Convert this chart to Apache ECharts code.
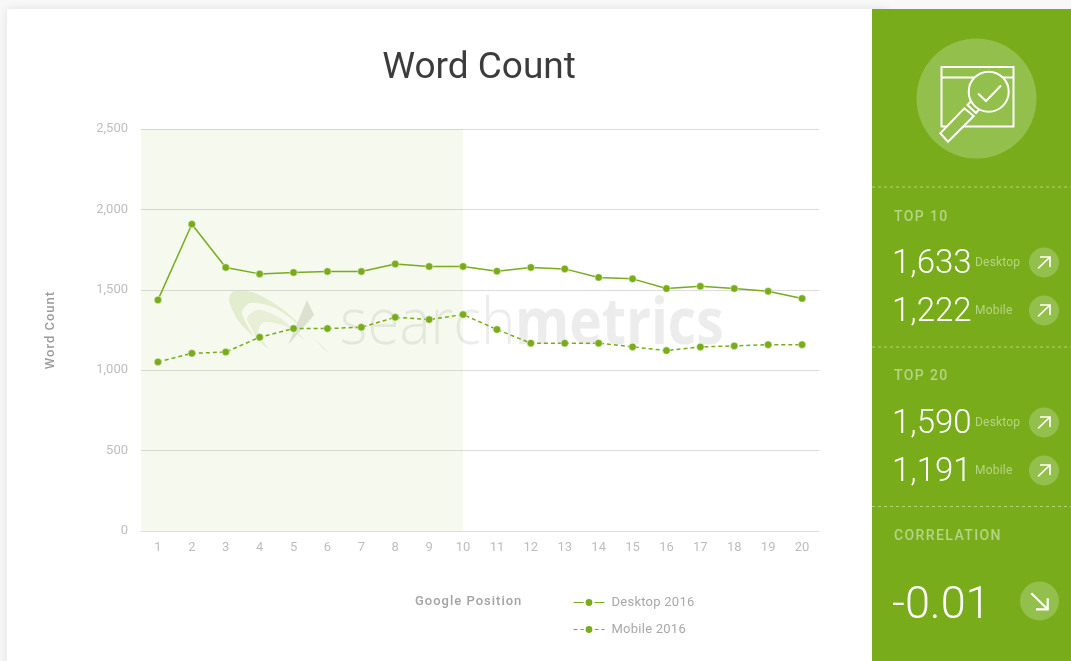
<!DOCTYPE html>
<html><head><meta charset="utf-8">
<style>html,body{margin:0;padding:0;background:#f8f8f8;overflow:hidden}#c{width:1071px;height:661px}</style>
<script src="https://cdn.jsdelivr.net/npm/echarts@6/dist/echarts.min.js"></script>
</head><body><div id="c"></div>
<script>
const positions = ['1','2','3','4','5','6','7','8','9','10','11','12','13','14','15','16','17','18','19','20'];
const desktop2016 = [1437,1908,1639,1599,1608,1614,1614,1661,1645,1645,1616,1639,1630,1577,1568,1508,1522,1508,1491,1446];
const mobile2016 = [1051,1105,1113,1205,1259,1259,1267,1329,1315,1346,1253,1168,1168,1168,1145,1122,1145,1151,1159,1159];
const top10Values = ['1,633','1,222'];
const top20Values = ['1,590','1,191'];
const correlationValue = '-0.01';
const G = '#78ac1a', C = '#93bf4c', SUB = '#b6d486';

// Tracking for labels: the reference sets these with CSS letter-spacing.
const tracking = {'TOP 10':'1.4px','TOP 20':'1.4px','CORRELATION':'1.4px','Desktop':'0.2px','Mobile':'0.2px',
  'Google Position':'1px','Word Count@axis':'1px','Desktop 2016':'0.25px','Mobile 2016':'0.25px'};
const nativeFill = CanvasRenderingContext2D.prototype.fillText;
CanvasRenderingContext2D.prototype.fillText = function(t, x, y, m){
  const isAxisName = t === 'Word Count' && this.font.indexOf('37') < 0;
  const s = isAxisName ? tracking['Word Count@axis'] : tracking[t];
  if (s) this.letterSpacing = s;
  m === undefined ? nativeFill.call(this, t, x, y) : nativeFill.call(this, t, x, y, m);
  if (s) this.letterSpacing = '0px';
};

const font = (s, w) => (w || 400) + ' ' + s + 'px Roboto';
const txt = (text, x, y, fill, f, extra) => ({type:'text', z:(extra&&extra.z)||5, scaleX:(extra&&extra.sx)||1, originX:x, originY:y,
  style:Object.assign({text, x, y, fill, font:f, textVerticalAlign:'middle'}, extra&&extra.align?{textAlign:extra.align}:{})});
const line = (x1,y1,x2,y2,w,dash,stroke) => ({type:'line', z:5, shape:{x1,y1,x2,y2}, style:{stroke:stroke||'#fff', lineWidth:w||2, lineDash:dash||null}});
const circ = (cx,cy,r,fill,stroke,w) => ({type:'circle', z:5, shape:{cx,cy,r}, style:{fill, stroke:stroke||null, lineWidth:w||0}});
const arrowUp = (cx,cy) => [circ(cx,cy,15,C),
  {type:'polyline', z:6, shape:{points:[[cx-4,cy-5.5],[cx+6,cy-5.5],[cx+6,cy+4.5]]}, style:{fill:null, stroke:'#fff', lineWidth:1.7}},
  line(cx-6,cy+6,cx+6,cy-5.5,1.7)];
const row = (val,label,y) => [txt(val,892,y+3,'#fff',font(33,300)), txt(label,975,y+1,SUB,font(12)), ...arrowUp(1044,y+0.5)];
const poly = (points,fill,smooth) => ({type:'polygon', z:-1, shape:{points, smooth:smooth||0}, style:{fill}});
const graphics = [
  {type:'rect', z:-2, shape:{x:7,y:9,width:880,height:670}, style:{fill:'#fff', shadowBlur:9, shadowColor:'rgba(0,0,0,0.10)'}},
  {type:'rect', z:4, shape:{x:872,y:9,width:199,height:652}, style:{fill:G}},
  // watermark
  poly([[229,300],[234,291],[255,293],[285,311],[310,335],[328,352],[300,332],[270,322],[252,326],[268,348],[240,323]],'#ebf3df',0.3),
  poly([[242,313],[250,303],[275,308],[305,330],[322,348],[290,326],[265,316],[250,319],[258,342]],'#ffffff',0.3),
  poly([[247,319],[258,310],[280,318],[305,340],[282,324],[264,322],[258,332],[266,347]],'#f0f5e6',0.3),
  poly([[307,300],[314,315],[288,345]],'#e4e6de'),
  txt('search',340,325,'#ececec','300 65px "Open Sans"',{z:-1,sx:0.9}),
  txt('metrics',515,325,'#ececec','700 65px "Open Sans"',{z:-1,sx:0.85}),
  txt('Word Count',479,69,'#3c3c3c',font(37),{align:'center'}),
  txt('Google Position',415,602,'#a3a3a3',font(13,500)),
  // icon
  circ(976.5,98.5,60,C),
  {type:'rect', z:5, shape:{x:941.5,y:67,width:72,height:59.5}, style:{fill:null, stroke:'#fff', lineWidth:2}},
  line(941.5,77.5,1013.5,77.5,2),
  {type:'polygon', z:5, shape:{points:[[964.3,108.3],[973.7,116],[948,141.7],[940.3,133.3]]}, style:{fill:C, stroke:'#fff', lineWidth:2}},
  {type:'polygon', z:5, shape:{points:[[967.5,105],[976,113],[982,106],[974,98]]}, style:{fill:C, stroke:'#fff', lineWidth:2}},
  circ(988.7,91.7,20,C,'#fff',2),
  {type:'polyline', z:6, shape:{points:[[978,93.5],[986,101],[1001,85.5]]}, style:{fill:null, stroke:'#fff', lineWidth:2}},
  // dividers
  line(872,187,1071,187,1,[3,3],'rgba(255,255,255,0.45)'),
  line(872,347,1071,347,1,[3,3],'rgba(255,255,255,0.45)'),
  line(872,506.5,1071,506.5,1,[3,3],'rgba(255,255,255,0.45)'),
  txt('TOP 10',894,217,SUB,font(14,500)),
  ...row(top10Values[0],'Desktop',262),
  ...row(top10Values[1],'Mobile',310),
  txt('TOP 20',894,376,SUB,font(14,500)),
  ...row(top20Values[0],'Desktop',422),
  ...row(top20Values[1],'Mobile',470),
  txt('CORRELATION',894,536,SUB,font(14,500)),
  txt(correlationValue,892,607,'#fff',font(45,300)),
  circ(1039.5,601,19.5,C),
  {type:'polyline', z:6, shape:{points:[[1047.7,598.3],[1047.7,609.3],[1036,609.3]]}, style:{fill:null, stroke:'#fff', lineWidth:2.2}},
  line(1031.3,593.3,1047.7,609.3,2.2)
];
const chart = echarts.init(document.getElementById('c'), null, {renderer:'canvas'});
const seriesCommon = {type:'line', symbol:'circle', symbolSize:7.5, showSymbol:true, animation:false, smooth:false, itemStyle:{color:'#78ac1a', borderColor:'#fff', borderWidth:0.5}};
chart.setOption({
  animation:false,
  backgroundColor:'#f8f8f8',
  textStyle:{fontFamily:'Roboto'},
  graphic:{elements:graphics},
  grid:{left:141, right:252, top:129, bottom:130, containLabel:false},
  legend:{orient:'vertical', left:568, top:591, itemWidth:31, itemHeight:11, itemGap:14, selectedMode:false,
    lineStyle:{width:1},
    textStyle:{color:'#a8a8a8', fontSize:13, fontFamily:'Roboto', fontWeight:400, padding:[0,0,0,2]},
    data:['Desktop 2016','Mobile 2016']},
  xAxis:{type:'category', data:positions, boundaryGap:true, axisTick:{show:false},
    axisLine:{lineStyle:{color:'#dedede', width:1}},
    axisLabel:{color:'#bdbdbd', fontSize:13, margin:10, interval:0}, splitLine:{show:false}},
  yAxis:{type:'value', min:0, max:2500, interval:500, name:'Word Count', nameLocation:'middle', nameGap:84,
    nameTextStyle:{color:'#9b9b9b', fontSize:13, fontWeight:500},
    axisLine:{show:false}, axisTick:{show:false},
    axisLabel:{color:'#bdbdbd', fontSize:13, margin:13},
    splitLine:{lineStyle:{color:'#dcdcdc', width:1}}},
  series:[
    Object.assign({}, seriesCommon, {name:'Desktop 2016', data:desktop2016, lineStyle:{color:'#78ac1a', width:1.5},
      markArea:{silent:true, itemStyle:{color:'rgba(120,172,26,0.075)'}, data:[[{xAxis:-Infinity},{xAxis:'10'}]]}}),
    Object.assign({}, seriesCommon, {name:'Mobile 2016', data:mobile2016, lineStyle:{color:'#78ac1a', width:1.5, type:[4,3]}})
  ]
});
</script></body></html>
